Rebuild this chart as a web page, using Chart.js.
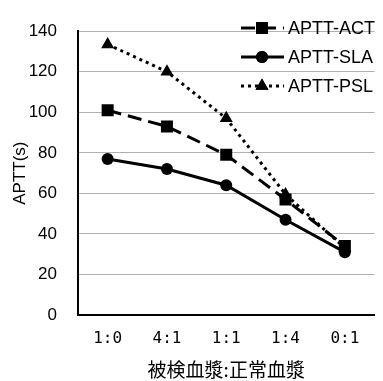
<!DOCTYPE html>
<html><head><meta charset="utf-8">
<script src="https://cdn.jsdelivr.net/npm/chart.js@4/dist/chart.umd.min.js"></script>
<style>html,body{margin:0;padding:0;background:#fff}#w{width:383px;height:381px}</style>
</head><body><div id="w"><canvas id="c" width="383" height="381"></canvas></div>
<script>
const categories = ['1:0','4:1','1:1','1:4','0:1'];
const actValues = [101, 93, 79, 57, 34];
const slaValues = [77, 72, 64, 47, 31];
const pslValues = [133.5, 120, 97, 59.5, 33];
const yTicks = [0,20,40,60,80,100,120,140];
const seriesNames = ['APTT-ACT','APTT-SLA','APTT-PSL'];
const xTitle = '被検血漿:正常血漿';
const yTitle = 'APTT(s)';

const FONT = "'Liberation Sans', Arial, sans-serif";

const legendPlugin = {
  id: 'inlegend',
  afterDraw(chart) {
    const ctx = chart.ctx;
    const rows = [28, 57, 86];
    chart.data.datasets.forEach((ds, i) => {
      const y = rows[i];
      ctx.save();
      ctx.strokeStyle = '#000';
      ctx.lineWidth = 3;
      ctx.setLineDash(ds.borderDash || []);
      ctx.beginPath();
      ctx.moveTo(241, y); ctx.lineTo(284, y);
      ctx.stroke();
      ctx.setLineDash([]);
      Chart.helpers.drawPoint(ctx, {pointStyle: ds.pointStyle, rotation: 0, radius: ds.pointRadius, borderWidth: 0}, 262, y);
      ctx.fillStyle = '#000';
      ctx.fill();
      ctx.font = '18px ' + FONT;
      ctx.textBaseline = 'middle';
      ctx.textAlign = 'left';
      ctx.fillText(ds.label, 288, y + 1);
      ctx.restore();
    });
  }
};

new Chart(document.getElementById('c'), {
  type: 'line',
  data: {
    labels: categories,
    datasets: [
      {label: seriesNames[0], data: actValues, borderColor:'#000', backgroundColor:'#000', borderWidth:3,
       borderDash:[14,7], pointStyle:'rect', pointRadius:8.5, pointBorderWidth:0, tension:0},
      {label: seriesNames[1], data: slaValues, borderColor:'#000', backgroundColor:'#000', borderWidth:3,
       pointStyle:'circle', pointRadius:6, pointBorderWidth:0, tension:0},
      {label: seriesNames[2], data: pslValues, borderColor:'#000', backgroundColor:'#000', borderWidth:3,
       borderDash:[3,4], pointStyle:'triangle', pointRadius:7.5, pointBorderWidth:0, tension:0}
    ]
  },
  options: {
    responsive: false,
    animation: false,
    devicePixelRatio: 1,
    layout: {padding: {top: 13, right: 0, left: 0, bottom: 0}},
    plugins: {legend: {display: false}, tooltip: {enabled: false}},
    scales: {
      x: {
        offset: true,
        grid: {display: false, drawTicks: false},
        border: {display: true, color: '#000', width: 2},
        ticks: {color: '#000', padding: 14, font: {family: "'DejaVu Sans Mono', monospace", size: 16}},
        title: {display: true, text: xTitle, color: '#000', padding: {top: 5, bottom: 0},
                font: {family: "'Noto Sans CJK JP', sans-serif", size: 19}},
        afterFit(s) { s.height = 66; }
      },
      y: {
        min: 0, max: 140,
        afterBuildTicks(s) { s.ticks = yTicks.map(v => ({value: v})); },
        grid: {color: '#b0b0b0', lineWidth: 1, drawTicks: false},
        border: {display: true, color: '#000', width: 2},
        ticks: {color: '#000', padding: 21, font: {family: FONT, size: 17}},
        title: {display: true, text: yTitle, color: '#000', padding: {top: 10, bottom: 0},
                font: {family: FONT, size: 17}},
        afterFit(s) { s.width = 78; }
      }
    }
  },
  plugins: [legendPlugin]
});
</script>
</body></html>
